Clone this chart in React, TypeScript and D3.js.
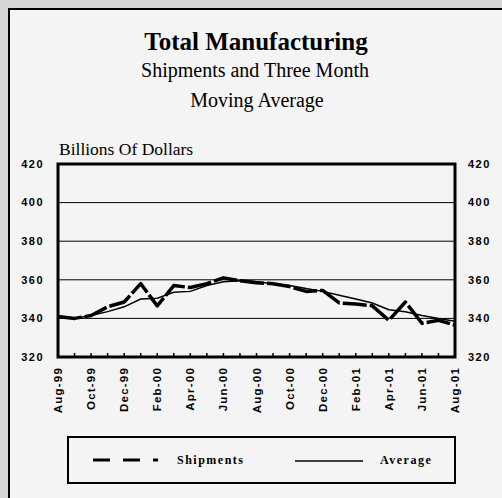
import React, { useEffect, useRef } from 'react';
import * as d3 from 'd3';

// monthly values, Aug-99 .. Aug-01
const months = [
  'Aug-99', 'Sep-99', 'Oct-99', 'Nov-99', 'Dec-99', 'Jan-00', 'Feb-00', 'Mar-00', 'Apr-00',
  'May-00', 'Jun-00', 'Jul-00', 'Aug-00', 'Sep-00', 'Oct-00', 'Nov-00', 'Dec-00',
  'Jan-01', 'Feb-01', 'Mar-01', 'Apr-01', 'May-01', 'Jun-01', 'Jul-01', 'Aug-01',
];
const shipments = [
  341, 340, 341.5, 346, 348.5, 358, 346.5, 357, 356, 358, 361, 359.5, 358.5,
  358, 356.5, 354, 354.5, 348, 347.5, 346.5, 339, 348.5, 337.5, 339, 336.5,
];
const average = [
  340.5, 340, 341.5, 343.5, 346, 350, 350.5, 353.5, 354, 357, 359, 359.5, 359,
  358, 357, 355.5, 354, 352, 350, 348, 344.5, 343.5, 341.5, 340, 338.5,
];
const tickLabels = [
  'Aug-99', 'Oct-99', 'Dec-99', 'Feb-00', 'Apr-00', 'Jun-00', 'Aug-00',
  'Oct-00', 'Dec-00', 'Feb-01', 'Apr-01', 'Jun-01', 'Aug-01',
];
const yTicks = [320, 340, 360, 380, 400, 420];

function Chart() {
  const ref = useRef(null);
  const width = 502;
  const height = 498;
  const plot = { left: 58, right: 455, top: 164, bottom: 357 };

  useEffect(() => {
    d3.select(ref.current).select('svg').remove();
    const svg = d3
      .select(ref.current)
      .append('svg')
      .attr('width', width)
      .attr('height', height)
      .style('position', 'absolute')
      .style('left', 0)
      .style('top', 0);

    // backgrounds and outer frame
    svg.append('rect').attr('width', width).attr('height', height).attr('fill', '#d6d6d6');
    svg.append('rect').attr('x', 8).attr('y', 8).attr('width', width).attr('height', height).attr('fill', '#f4f4f4');
    svg.append('path').attr('d', `M9,${height} V9 H${width}`).attr('stroke', '#000').attr('stroke-width', 2).attr('fill', 'none');

    const x = d3.scaleLinear().domain([0, months.length - 1]).range([plot.left, plot.right]);
    const y = d3.scaleLinear().domain([320, 420]).range([plot.bottom, plot.top]);

    // titles
    const serif = '"Liberation Serif", "Times New Roman", serif';
    const sans = '"Liberation Sans", Arial, sans-serif';
    svg.append('text').attr('x', 256).attr('y', 50).attr('text-anchor', 'middle')
      .style('font-family', serif).style('font-size', '25px').style('font-weight', 'bold')
      .text('Total Manufacturing');
    svg.append('text').attr('x', 255).attr('y', 77).attr('text-anchor', 'middle')
      .style('font-family', serif).style('font-size', '20px')
      .text('Shipments and Three Month');
    svg.append('text').attr('x', 257).attr('y', 107).attr('text-anchor', 'middle')
      .style('font-family', serif).style('font-size', '20px')
      .text('Moving Average');
    svg.append('text').attr('x', 59).attr('y', 155)
      .style('font-family', serif).style('font-size', '17.5px')
      .text('Billions Of Dollars');

    // gridlines
    svg.selectAll('.grid').data(yTicks.slice(1, -1)).enter().append('line')
      .attr('class', 'grid')
      .attr('x1', plot.left).attr('x2', plot.right)
      .attr('y1', (d) => y(d)).attr('y2', (d) => y(d))
      .attr('stroke', '#000').attr('stroke-width', 1);

    // y labels both sides
    [
      { xpos: 44, anchor: 'end' },
      { xpos: 468, anchor: 'start' },
    ].forEach((side) => {
      svg.selectAll(null).data(yTicks).enter().append('text')
        .attr('x', side.xpos).attr('y', (d) => y(d)).attr('dy', '0.35em')
        .attr('text-anchor', side.anchor)
        .style('font-family', sans).style('font-size', '11px').style('font-weight', 'bold')
        .style('letter-spacing', '1.5px')
        .text((d) => d);
    });

    // month ticks (inside)
    svg.selectAll('.mtick').data(months).enter().append('line')
      .attr('class', 'mtick')
      .attr('x1', (d, i) => x(i)).attr('x2', (d, i) => x(i))
      .attr('y1', plot.bottom).attr('y2', plot.bottom - 4)
      .attr('stroke', '#000').attr('stroke-width', 1.5);

    // x labels
    svg.selectAll('.xlab').data(tickLabels).enter().append('text')
      .attr('class', 'xlab')
      .attr('transform', (d, i) => `translate(${x(i * 2) + 4},${plot.bottom + 10}) rotate(-90)`)
      .attr('text-anchor', 'end')
      .style('font-family', sans).style('font-size', '11.5px').style('font-weight', 'bold')
      .style('letter-spacing', '1.2px')
      .text((d) => d);

    // lines
    const line = d3.line().x((d, i) => x(i)).y((d) => y(d));
    svg.append('path').datum(average).attr('d', line)
      .attr('fill', 'none').attr('stroke', '#000').attr('stroke-width', 1.5);
    svg.append('path').datum(shipments).attr('d', line)
      .attr('fill', 'none').attr('stroke', '#000').attr('stroke-width', 3.5)
      .attr('stroke-dasharray', '24,3').attr('stroke-linejoin', 'round');

    // plot frame
    svg.append('rect')
      .attr('x', plot.left).attr('y', plot.top)
      .attr('width', plot.right - plot.left).attr('height', plot.bottom - plot.top)
      .attr('fill', 'none').attr('stroke', '#000').attr('stroke-width', 3);

    // legend
    const lg = svg.append('g');
    lg.append('rect').attr('x', 68).attr('y', 437).attr('width', 387).attr('height', 46)
      .attr('fill', 'none').attr('stroke', '#000').attr('stroke-width', 2);
    lg.append('line').attr('x1', 93).attr('x2', 158).attr('y1', 460).attr('y2', 460)
      .attr('stroke', '#000').attr('stroke-width', 3).attr('stroke-dasharray', '17,13');
    lg.append('text').attr('x', 177).attr('y', 464)
      .style('font-family', serif).style('font-size', '12px').style('font-weight', 'bold')
      .style('letter-spacing', '1.5px').text('Shipments');
    lg.append('line').attr('x1', 295).attr('x2', 363).attr('y1', 461).attr('y2', 461)
      .attr('stroke', '#000').attr('stroke-width', 1.5);
    lg.append('text').attr('x', 380).attr('y', 464)
      .style('font-family', serif).style('font-size', '12px').style('font-weight', 'bold')
      .style('letter-spacing', '1.5px').text('Average');

    return () => {
      d3.select(ref.current).select('svg').remove();
    };
  }, []);

  return <div ref={ref} style={{ width: width, height: height }}></div>;
}

export default function App() {
  return <Chart />;
}
